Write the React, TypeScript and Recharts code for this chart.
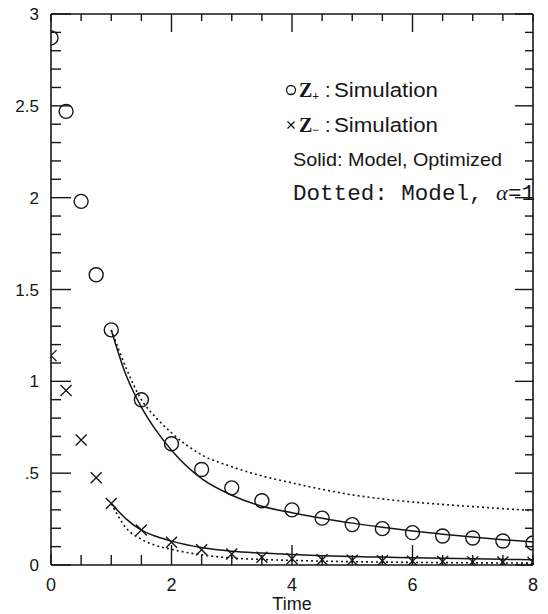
import { ComposedChart, Line, Scatter, XAxis, YAxis, Customized } from "recharts";

// Sampled simulation times and values for the two species
const simTimes = [0, 0.25, 0.5, 0.75, 1, 1.5, 2, 2.5, 3, 3.5, 4, 4.5, 5, 5.5, 6, 6.5, 7, 7.5, 8];
const zPlusSim = [2.87, 2.47, 1.98, 1.58, 1.28, 0.9, 0.66, 0.52, 0.42, 0.35, 0.3, 0.255, 0.22, 0.198, 0.176, 0.158, 0.147, 0.131, 0.12];
const zMinusSim = [1.14, 0.95, 0.68, 0.475, 0.335, 0.19, 0.124, 0.083, 0.06, 0.042, 0.034, 0.028, 0.026, 0.023, 0.021, 0.019, 0.017, 0.016, 0.015];

// Model curves start at t = 1
const modelTimes = [1, 1.25, 1.5, 1.75, 2, 2.5, 3, 3.5, 4, 4.5, 5, 5.5, 6, 6.5, 7, 7.5, 8];
const zPlusOptimized = [1.28, 1.03, 0.86, 0.73, 0.625, 0.47, 0.38, 0.32, 0.285, 0.255, 0.228, 0.205, 0.185, 0.168, 0.152, 0.138, 0.125];
const zPlusAlphaOne = [1.28, 1.07, 0.9, 0.8, 0.72, 0.6, 0.535, 0.485, 0.447, 0.412, 0.382, 0.36, 0.343, 0.33, 0.318, 0.307, 0.296];
const zMinusOptimized = [0.335, 0.25, 0.19, 0.155, 0.13, 0.095, 0.075, 0.065, 0.057, 0.051, 0.046, 0.043, 0.04, 0.037, 0.034, 0.031, 0.028];
const zMinusAlphaOne = [0.335, 0.2, 0.14, 0.105, 0.085, 0.055, 0.038, 0.03, 0.025, 0.021, 0.018, 0.016, 0.014, 0.013, 0.012, 0.011, 0.01];

// Axis ticks
const xTicks = [0, 0.5, 1, 1.5, 2, 2.5, 3, 3.5, 4, 4.5, 5, 5.5, 6, 6.5, 7, 7.5, 8];
const xLabelTicks = [0, 2, 4, 6, 8];
const yTicks = [
  0, 0.1, 0.2, 0.3, 0.4, 0.5, 0.6, 0.7, 0.8, 0.9, 1, 1.1, 1.2, 1.3, 1.4, 1.5, 1.6, 1.7, 1.8, 1.9, 2,
  2.1, 2.2, 2.3, 2.4, 2.5, 2.6, 2.7, 2.8, 2.9, 3,
];
const yLabels: Record<string, string> = { "0": "0", "0.5": ".5", "1": "1", "1.5": "1.5", "2": "2", "2.5": "2.5", "3": "3" };

const INK = "#161616";
const SANS = "'Liberation Sans', Arial, sans-serif";
const SERIF = "'Liberation Serif', serif";

const toPoints = (ts: number[], vs: number[]) => ts.map((t, i) => ({ t, v: vs[i] }));

const isHalf = (v: number) => Math.abs(v * 2 - Math.round(v * 2)) < 1e-6;
const isLongX = (v: number) => v === 2 || v === 4 || v === 6;

function BottomTick(props: any) {
  const { x, y, payload } = props;
  const v = payload.value;
  const len = isLongX(v) ? 20 : 10;
  return (
    <g>
      <line x1={x} x2={x} y1={y} y2={y - len} stroke={INK} strokeWidth={1.4} />
      {xLabelTicks.includes(v) && (
        <text x={x} y={y + 26} textAnchor="middle" fontFamily={SANS} fontSize={18} fill={INK}>
          {v}
        </text>
      )}
    </g>
  );
}

function TopTick(props: any) {
  const { x, y, payload } = props;
  const len = isLongX(payload.value) ? 18 : 7;
  return <line x1={x} x2={x} y1={y} y2={y + len} stroke={INK} strokeWidth={1.4} />;
}

function LeftTick(props: any) {
  const { x, y, payload } = props;
  const v = payload.value;
  const major = isHalf(v);
  const label = yLabels[String(v)];
  return (
    <g>
      <line x1={x} x2={x + (major ? 20 : 10)} y1={y} y2={y} stroke={INK} strokeWidth={1.4} />
      {major && label && (
        <text x={x - 12} y={y + 6} textAnchor="end" fontFamily={SANS} fontSize={17} fill={INK}>
          {label}
        </text>
      )}
    </g>
  );
}

function RightTick(props: any) {
  const { x, y, payload } = props;
  const len = isHalf(payload.value) ? 18 : 8;
  return <line x1={x} x2={x - len} y1={y} y2={y} stroke={INK} strokeWidth={1.4} />;
}

const ring = (p: any) => (
  <circle cx={p.cx} cy={p.cy} r={7} fill="none" stroke={INK} strokeWidth={1.4} />
);

const cross = (p: any) => {
  const s = 5.5;
  return (
    <path
      d={`M${p.cx - s},${p.cy - s}L${p.cx + s},${p.cy + s}M${p.cx - s},${p.cy + s}L${p.cx + s},${p.cy - s}`}
      stroke={INK}
      strokeWidth={1.4}
      fill="none"
    />
  );
};

// Legend block in the upper right of the plot
function Notes() {
  return (
    <g fill={INK}>
      <circle cx={291} cy={90} r={4.5} fill="none" stroke={INK} strokeWidth={1.3} />
      <text x={299} y={97} fontFamily={SERIF} fontSize={20} fontWeight="bold">
        Z
        <tspan fontSize={12} dy={3}>+</tspan>
      </text>
      <text x={325} y={97} fontFamily={SANS} fontSize={20}>:</text>
      <text x={334} y={97} fontFamily={SANS} fontSize={20} textLength={104} lengthAdjust="spacingAndGlyphs">
        Simulation
      </text>

      <path d="M287.5,121.5L294.5,128.5M287.5,128.5L294.5,121.5" stroke={INK} strokeWidth={1.3} />
      <text x={299} y={132} fontFamily={SERIF} fontSize={20} fontWeight="bold">
        Z
        <tspan fontSize={12} dy={2}>−</tspan>
      </text>
      <text x={325} y={132} fontFamily={SANS} fontSize={20}>:</text>
      <text x={334} y={132} fontFamily={SANS} fontSize={20} textLength={104} lengthAdjust="spacingAndGlyphs">
        Simulation
      </text>

      <text x={293} y={166} fontFamily={SANS} fontSize={19} textLength={209} lengthAdjust="spacingAndGlyphs">
        Solid: Model, Optimized
      </text>
      <text x={293} y={200} fontFamily="'Liberation Mono', monospace" fontSize={22} textLength={242} lengthAdjust="spacingAndGlyphs">
        Dotted: Model, <tspan fontFamily={SERIF} fontStyle="italic">α</tspan>=1
      </text>
    </g>
  );
}

export default function App() {
  return (
    <div style={{ position: "absolute", left: 0, top: 0 }}>
      <ComposedChart width={548} height={614} margin={{ top: 13, right: 14, bottom: 0, left: 0 }}>
        <XAxis
          dataKey="t"
          type="number"
          domain={[0, 8]}
          ticks={xTicks}
          interval={0}
          allowDataOverflow
          height={49}
          tickSize={0}
          tickMargin={0}
          tickLine={false}
          axisLine={{ stroke: INK, strokeWidth: 1.6 }}
          tick={BottomTick}
          label={{ value: "Time", position: "insideBottom", offset: 0, dy: -4, fontSize: 18, fontFamily: SANS, fill: INK }}
        />
        <XAxis
          xAxisId="top"
          orientation="top"
          dataKey="t"
          type="number"
          domain={[0, 8]}
          ticks={xTicks}
          interval={0}
          allowDataOverflow
          height={1}
          tickSize={0}
          tickMargin={0}
          tickLine={false}
          axisLine={{ stroke: INK, strokeWidth: 1.6 }}
          tick={TopTick}
        />
        <YAxis
          dataKey="v"
          type="number"
          domain={[0, 3]}
          ticks={yTicks}
          interval={0}
          allowDataOverflow
          width={51}
          tickSize={0}
          tickMargin={0}
          tickLine={false}
          axisLine={{ stroke: INK, strokeWidth: 1.6 }}
          tick={LeftTick}
        />
        <YAxis
          yAxisId="right"
          orientation="right"
          dataKey="v"
          type="number"
          domain={[0, 3]}
          ticks={yTicks}
          interval={0}
          allowDataOverflow
          width={1}
          tickSize={0}
          tickMargin={0}
          tickLine={false}
          axisLine={{ stroke: INK, strokeWidth: 1.6 }}
          tick={RightTick}
        />

        <Line data={toPoints(modelTimes, zPlusOptimized)} dataKey="v" type="monotone" stroke={INK} strokeWidth={1.5} dot={false} isAnimationActive={false} />
        {/* the alpha = 1 curves sit on the mirrored top/right axes (same domains) */}
        <Line data={toPoints(modelTimes, zPlusAlphaOne)} xAxisId="top" yAxisId="right" dataKey="v" type="monotone" stroke={INK} strokeWidth={1.6} strokeDasharray="2 3" dot={false} isAnimationActive={false} />
        <Line data={toPoints(modelTimes, zMinusOptimized)} dataKey="v" type="monotone" stroke={INK} strokeWidth={1.5} dot={false} isAnimationActive={false} />
        <Line data={toPoints(modelTimes, zMinusAlphaOne)} xAxisId="top" yAxisId="right" dataKey="v" type="monotone" stroke={INK} strokeWidth={1.6} strokeDasharray="2 3" dot={false} isAnimationActive={false} />

        <Scatter data={toPoints(simTimes, zPlusSim)} dataKey="v" shape={ring} isAnimationActive={false} />
        <Scatter data={toPoints(simTimes, zMinusSim)} dataKey="v" shape={cross} isAnimationActive={false} />

        <Customized component={Notes} />
      </ComposedChart>
    </div>
  );
}
